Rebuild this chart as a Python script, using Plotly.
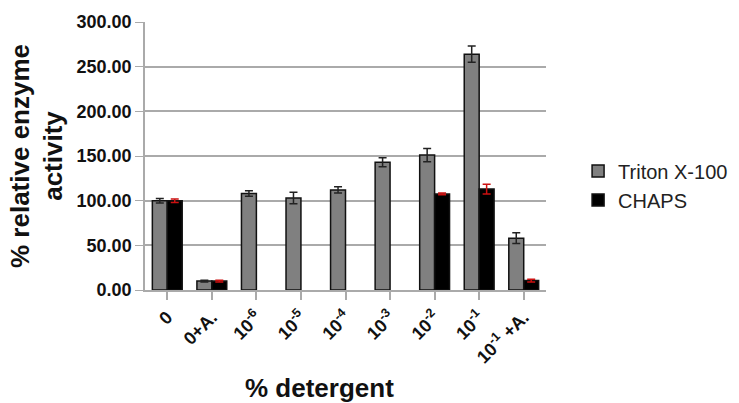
import plotly.graph_objects as go

categories = ["0", "0+A.", "10<sup>-6</sup>", "10<sup>-5</sup>", "10<sup>-4</sup>",
              "10<sup>-3</sup>", "10<sup>-2</sup>", "10<sup>-1</sup>", "10<sup>-1</sup> +A."]
triton = [100, 10, 108, 103, 112, 143, 151, 264, 58]
triton_err = [2.5, 1, 3, 6.5, 3.5, 5, 7.5, 9, 6]
chaps = [100, 10, None, None, None, None, 107.5, 113, 10.5]
chaps_err = [2, 1, None, None, None, None, 1, 5.5, 1.5]

fig = go.Figure()
fig.add_trace(go.Bar(
    x=categories, y=triton, name="Triton X-100",
    marker=dict(color="#808080", line=dict(color="#111111", width=1.5)),
    error_y=dict(type="data", array=triton_err, color="#222222", thickness=1.5, width=4),
))
fig.add_trace(go.Bar(
    x=categories, y=chaps, name="CHAPS",
    marker=dict(color="#000000", line=dict(color="#111111", width=1.5)),
    error_y=dict(type="data", array=chaps_err, color="#cc1111", thickness=1.5, width=4),
))

fig.update_layout(
    width=739, height=403,
    margin=dict(l=145, r=193, t=22, b=113, autoexpand=False),
    paper_bgcolor="white", plot_bgcolor="white",
    barmode="group", bargap=0.33, bargroupgap=0,
    font=dict(family="Liberation Sans, Arial, sans-serif", color="#111111"),
    showlegend=True,
    legend=dict(x=1.08, y=0.39, xanchor="left", yanchor="middle",
                font=dict(size=20, color="#222222"), bgcolor="rgba(0,0,0,0)",
                tracegroupgap=4),
    xaxis=dict(
        automargin=False,
        showline=True, linecolor="#aaaaaa", linewidth=1.5,
        ticks="outside", ticklen=8, tickcolor="#aaaaaa", tickwidth=1.5,
        tickangle=-45, tickfont=dict(size=18, weight="bold"),
    ),
    yaxis=dict(
        automargin=False,
        range=[0, 300], dtick=50, tickformat=".2f",
        showline=True, linecolor="#aaaaaa", linewidth=1.5,
        showgrid=True, gridcolor="#aaaaaa", gridwidth=1.5,
        ticks="outside", ticklen=8, tickcolor="#aaaaaa",
        tickfont=dict(size=18, weight="bold"),
        title=dict(text="<b>% relative enzyme<br>activity</b>", font=dict(size=26), standoff=6),
        zeroline=False,
    ),
    annotations=[dict(
        text="<b>% detergent</b>", xref="paper", yref="paper",
        x=0.434, y=-0.366, xanchor="center", yanchor="middle",
        showarrow=False, font=dict(size=26, color="#111111"),
    )],
)

fig.write_html("out.html")
